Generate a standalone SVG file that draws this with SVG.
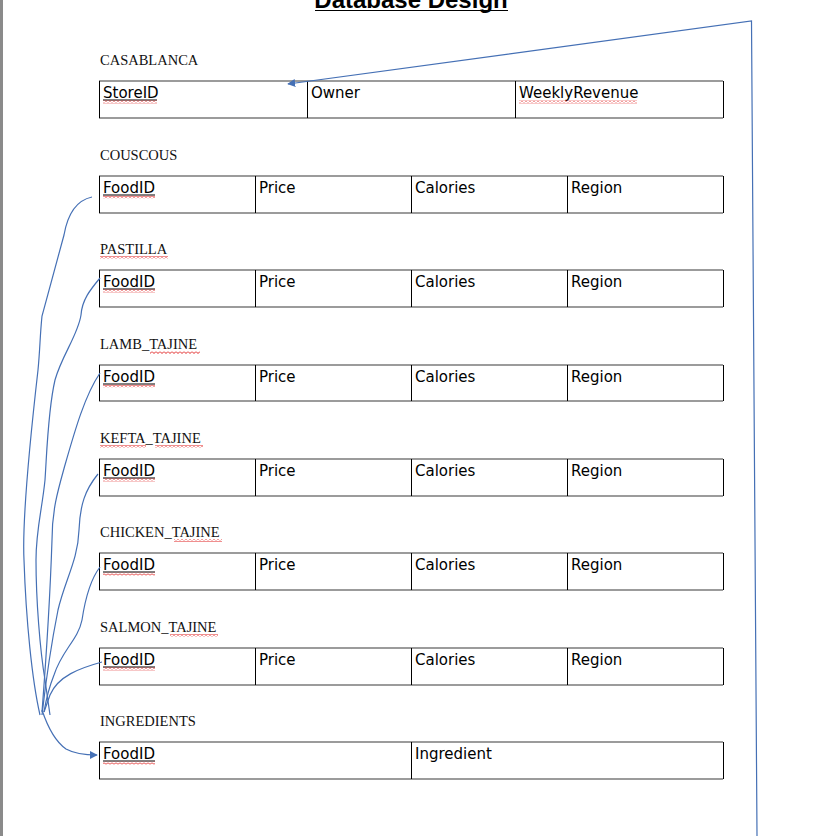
<svg xmlns="http://www.w3.org/2000/svg" width="816" height="836" viewBox="0 0 816 836">
<style>
.title{font-family:"Liberation Sans",Arial,sans-serif;font-weight:bold;font-size:24px;fill:#000}
.lbl{font-family:"Liberation Serif","Times New Roman",serif;font-size:14.5px;fill:#111}
.cell{font-family:"DejaVu Sans",Verdana,sans-serif;font-size:15px;fill:#000}
.hline{stroke:#7a7a7a;stroke-width:1.6;fill:none}
.vline{stroke:#000;stroke-width:1;fill:none}
.ul{stroke:#000;stroke-width:1}
.conn{fill:none;stroke:#4570b5;stroke-width:1.2}
</style>
<defs>
<pattern id="wave" x="0" y="0" width="4" height="3" patternUnits="userSpaceOnUse">
<polyline points="0,0.5 2,2.5 4,0.5" fill="none" stroke="#e02020" stroke-width="1"/>
</pattern>
<marker id="arr" viewBox="0 0 10 10" refX="9" refY="5" markerWidth="8" markerHeight="8" markerUnits="userSpaceOnUse" orient="auto">
<path d="M0,0 L10,5 L0,10 Z" fill="#4570b5"/>
</marker>
</defs>
<rect x="0" y="0" width="816" height="836" fill="#fff"/>
<rect x="0" y="0" width="3" height="836" fill="#8a8a8a"/>

<g id="title">
<text class="title" x="411" y="8" text-anchor="middle">Database Design</text>
<line class="ul" x1="315" y1="10.5" x2="508" y2="10.5" stroke-width="1.5"/>
</g>

<g id="casablanca">
<text class="lbl" x="100" y="65">CASABLANCA</text>
<line class="hline" x1="99" y1="81" x2="723" y2="81"/>
<line class="hline" x1="99" y1="118" x2="723" y2="118"/>
<line class="vline" x1="99.5" y1="81" x2="99.5" y2="118"/>
<line class="vline" x1="307.5" y1="81" x2="307.5" y2="118"/>
<line class="vline" x1="515.5" y1="81" x2="515.5" y2="118"/>
<line class="vline" x1="723.5" y1="81" x2="723.5" y2="118"/>
<text class="cell" x="103" y="98">StoreID</text>
<line class="ul" x1="103" y1="100" x2="157" y2="100"/>
<rect x="103" y="100.5" width="54" height="3" fill="url(#wave)"/>
<text class="cell" x="311" y="98">Owner</text>
<text class="cell" x="519" y="98">WeeklyRevenue</text>
<rect x="519" y="100.5" width="118" height="3" fill="url(#wave)"/>
</g>

<g id="couscous">
<text class="lbl" x="100" y="160">COUSCOUS</text>
<line class="hline" x1="99" y1="176" x2="723" y2="176"/>
<line class="hline" x1="99" y1="213" x2="723" y2="213"/>
<line class="vline" x1="99.5" y1="176" x2="99.5" y2="213"/>
<line class="vline" x1="255.5" y1="176" x2="255.5" y2="213"/>
<line class="vline" x1="411.5" y1="176" x2="411.5" y2="213"/>
<line class="vline" x1="567.5" y1="176" x2="567.5" y2="213"/>
<line class="vline" x1="723.5" y1="176" x2="723.5" y2="213"/>
<text class="cell" x="103" y="193">FoodID</text>
<line class="ul" x1="103" y1="195" x2="155" y2="195"/>
<rect x="103" y="195.5" width="52" height="3" fill="url(#wave)"/>
<text class="cell" x="259" y="193">Price</text>
<text class="cell" x="415" y="193">Calories</text>
<text class="cell" x="571" y="193">Region</text>
</g>

<g id="pastilla">
<text class="lbl" x="100" y="254">PASTILLA</text>
<rect x="100" y="256" width="68" height="3" fill="url(#wave)"/>
<line class="hline" x1="99" y1="270" x2="723" y2="270"/>
<line class="hline" x1="99" y1="307" x2="723" y2="307"/>
<line class="vline" x1="99.5" y1="270" x2="99.5" y2="307"/>
<line class="vline" x1="255.5" y1="270" x2="255.5" y2="307"/>
<line class="vline" x1="411.5" y1="270" x2="411.5" y2="307"/>
<line class="vline" x1="567.5" y1="270" x2="567.5" y2="307"/>
<line class="vline" x1="723.5" y1="270" x2="723.5" y2="307"/>
<text class="cell" x="103" y="287">FoodID</text>
<line class="ul" x1="103" y1="289" x2="155" y2="289"/>
<rect x="103" y="289.5" width="52" height="3" fill="url(#wave)"/>
<text class="cell" x="259" y="287">Price</text>
<text class="cell" x="415" y="287">Calories</text>
<text class="cell" x="571" y="287">Region</text>
</g>

<g id="lamb_tajine">
<text class="lbl" x="100" y="349">LAMB_TAJINE</text>
<rect x="150" y="351" width="50" height="3" fill="url(#wave)"/>
<line class="hline" x1="99" y1="365" x2="723" y2="365"/>
<line class="hline" x1="99" y1="401" x2="723" y2="401"/>
<line class="vline" x1="99.5" y1="365" x2="99.5" y2="401"/>
<line class="vline" x1="255.5" y1="365" x2="255.5" y2="401"/>
<line class="vline" x1="411.5" y1="365" x2="411.5" y2="401"/>
<line class="vline" x1="567.5" y1="365" x2="567.5" y2="401"/>
<line class="vline" x1="723.5" y1="365" x2="723.5" y2="401"/>
<text class="cell" x="103" y="382">FoodID</text>
<line class="ul" x1="103" y1="384" x2="155" y2="384"/>
<rect x="103" y="384.5" width="52" height="3" fill="url(#wave)"/>
<text class="cell" x="259" y="382">Price</text>
<text class="cell" x="415" y="382">Calories</text>
<text class="cell" x="571" y="382">Region</text>
</g>

<g id="kefta_tajine">
<text class="lbl" x="100" y="443">KEFTA_TAJINE</text>
<rect x="100" y="445" width="46" height="3" fill="url(#wave)"/>
<rect x="155" y="445" width="48" height="3" fill="url(#wave)"/>
<line class="hline" x1="99" y1="459" x2="723" y2="459"/>
<line class="hline" x1="99" y1="496" x2="723" y2="496"/>
<line class="vline" x1="99.5" y1="459" x2="99.5" y2="496"/>
<line class="vline" x1="255.5" y1="459" x2="255.5" y2="496"/>
<line class="vline" x1="411.5" y1="459" x2="411.5" y2="496"/>
<line class="vline" x1="567.5" y1="459" x2="567.5" y2="496"/>
<line class="vline" x1="723.5" y1="459" x2="723.5" y2="496"/>
<text class="cell" x="103" y="476">FoodID</text>
<line class="ul" x1="103" y1="478" x2="155" y2="478"/>
<rect x="103" y="478.5" width="52" height="3" fill="url(#wave)"/>
<text class="cell" x="259" y="476">Price</text>
<text class="cell" x="415" y="476">Calories</text>
<text class="cell" x="571" y="476">Region</text>
</g>

<g id="chicken_tajine">
<text class="lbl" x="100" y="537">CHICKEN_TAJINE</text>
<rect x="174" y="539" width="48" height="3" fill="url(#wave)"/>
<line class="hline" x1="99" y1="553" x2="723" y2="553"/>
<line class="hline" x1="99" y1="590" x2="723" y2="590"/>
<line class="vline" x1="99.5" y1="553" x2="99.5" y2="590"/>
<line class="vline" x1="255.5" y1="553" x2="255.5" y2="590"/>
<line class="vline" x1="411.5" y1="553" x2="411.5" y2="590"/>
<line class="vline" x1="567.5" y1="553" x2="567.5" y2="590"/>
<line class="vline" x1="723.5" y1="553" x2="723.5" y2="590"/>
<text class="cell" x="103" y="570">FoodID</text>
<line class="ul" x1="103" y1="572" x2="155" y2="572"/>
<rect x="103" y="572.5" width="52" height="3" fill="url(#wave)"/>
<text class="cell" x="259" y="570">Price</text>
<text class="cell" x="415" y="570">Calories</text>
<text class="cell" x="571" y="570">Region</text>
</g>

<g id="salmon_tajine">
<text class="lbl" x="100" y="632">SALMON_TAJINE</text>
<rect x="170" y="634" width="48" height="3" fill="url(#wave)"/>
<line class="hline" x1="99" y1="648" x2="723" y2="648"/>
<line class="hline" x1="99" y1="685" x2="723" y2="685"/>
<line class="vline" x1="99.5" y1="648" x2="99.5" y2="685"/>
<line class="vline" x1="255.5" y1="648" x2="255.5" y2="685"/>
<line class="vline" x1="411.5" y1="648" x2="411.5" y2="685"/>
<line class="vline" x1="567.5" y1="648" x2="567.5" y2="685"/>
<line class="vline" x1="723.5" y1="648" x2="723.5" y2="685"/>
<text class="cell" x="103" y="665">FoodID</text>
<line class="ul" x1="103" y1="667" x2="155" y2="667"/>
<rect x="103" y="667.5" width="52" height="3" fill="url(#wave)"/>
<text class="cell" x="259" y="665">Price</text>
<text class="cell" x="415" y="665">Calories</text>
<text class="cell" x="571" y="665">Region</text>
</g>

<g id="ingredients">
<text class="lbl" x="100" y="726">INGREDIENTS</text>
<line class="hline" x1="99" y1="742" x2="723" y2="742"/>
<line class="hline" x1="99" y1="779" x2="723" y2="779"/>
<line class="vline" x1="99.5" y1="742" x2="99.5" y2="779"/>
<line class="vline" x1="411.5" y1="742" x2="411.5" y2="779"/>
<line class="vline" x1="723.5" y1="742" x2="723.5" y2="779"/>
<text class="cell" x="103" y="759">FoodID</text>
<line class="ul" x1="103" y1="761" x2="155" y2="761"/>
<rect x="103" y="761.5" width="52" height="3" fill="url(#wave)"/>
<text class="cell" x="415" y="759">Ingredient</text>
</g>

<g id="connectors">
<path class="conn" d="M757,836 L751.5,21 L288,84" marker-end="url(#arr)"/>
<path class="conn" d="M92,197 C78,200 68,212 64,235 L42,316 C40,335 40,350 38,370 C30,440 22,520 24,560 C26,620 32,680 40,715"/>
<path class="conn" d="M100,278 C90,290 82,300 81,315 C78,335 62,355 55,380 C48,410 47,450 45,480 C42,510 36,530 36,560 C36,600 40,650 45,680 L50,715"/>
<path class="conn" d="M100,373 C85,395 75,430 65,465 C58,490 52,510 52,540 C50,600 46,660 42,712"/>
<path class="conn" d="M98,474 C85,490 80,505 79,530 C78,560 65,580 58,610 C52,640 46,680 42,715"/>
<path class="conn" d="M100,567 C90,580 85,600 82,620 C78,640 62,650 54,675 C48,690 46,700 44,712"/>
<path class="conn" d="M102,662 C80,668 58,676 50,695 L44,712"/>
<path class="conn" d="M42,710 C48,728 56,742 66,749 C75,754 86,755 97,755" marker-end="url(#arr)"/>
</g>
</svg>
